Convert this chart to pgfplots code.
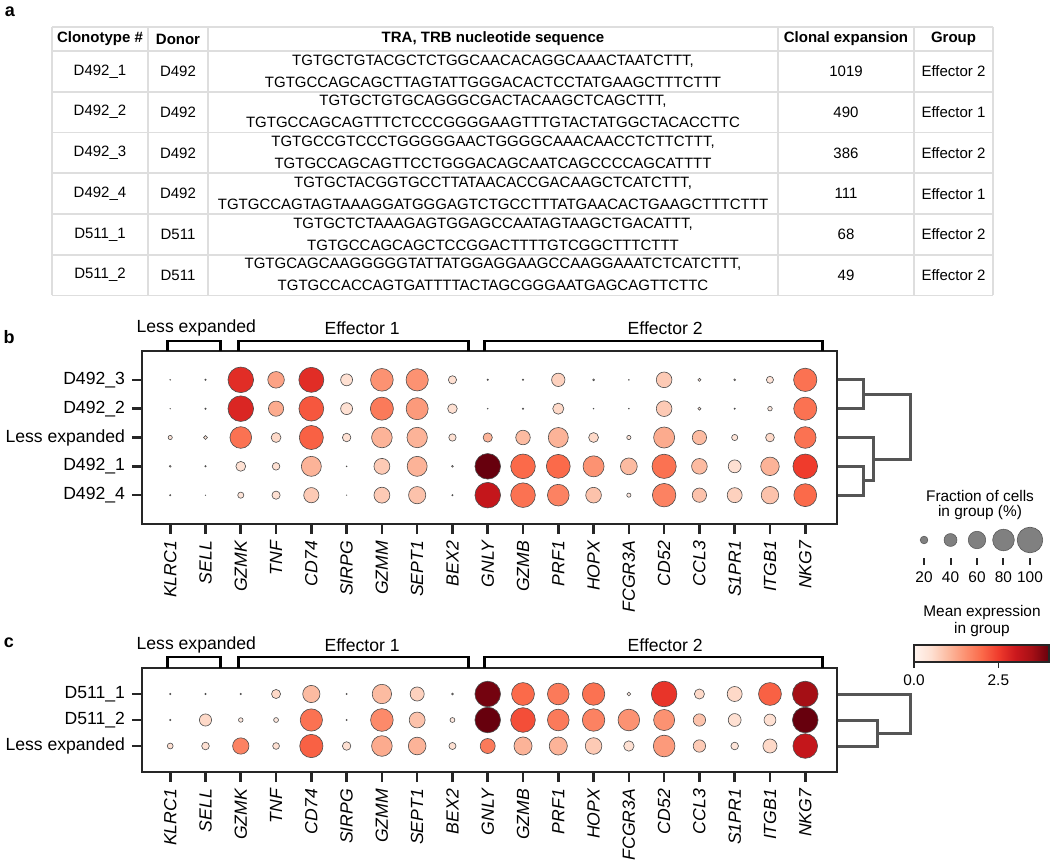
\documentclass[border=0pt]{standalone}
\usepackage{pgfplots}
\pgfplotsset{compat=1.18}
\usepackage{pgfplotstable}
\usepackage{fontspec}
\setmainfont{Liberation Sans}
\definecolor{tgrid}{RGB}{222,222,222}
\definecolor{axc}{RGB}{38,38,38}
\definecolor{dendc}{RGB}{85,85,85}
\newcommand\tf{\fontsize{7.5}{9}\selectfont}
\newcommand\lf{\fontsize{8.8}{10}\selectfont}
\newcommand\smf{\fontsize{7.7}{9}\selectfont}

\pgfplotstableread[row sep=\\]{
x y frac expr\\
0 0 1 0.3\\ 1 0 2 0.3\\ 2 0 100 2.7\\ 3 0 56 1.3\\ 4 0 97 2.7\\ 5 0 36 0.5\\ 6 0 85 1.5\\ 7 0 83 1.5\\ 8 0 22 0.5\\ 9 0 2 0.5\\
10 0 2 0.5\\ 11 0 42 0.7\\ 12 0 3 0.4\\ 13 0 1 0.3\\ 14 0 52 0.8\\ 15 0 6 0.4\\ 16 0 3 0.3\\ 17 0 18 0.4\\ 18 0 88 1.9\\
0 1 0.5 0.2\\ 1 1 2 0.3\\ 2 1 100 2.8\\ 3 1 50 1.2\\ 4 1 96 2.2\\ 5 1 36 0.5\\ 6 1 87 1.8\\ 7 1 82 1.4\\ 8 1 27 0.5\\ 9 1 1 0.3\\
10 1 2 0.4\\ 11 1 33 0.6\\ 12 1 1 0.3\\ 13 1 1 0.3\\ 14 1 52 0.8\\ 15 1 6 0.4\\ 16 1 2 0.3\\ 17 1 10 0.3\\ 18 1 87 1.9\\
0 2 9 0.4\\ 1 2 8 0.4\\ 2 2 80 1.9\\ 3 2 28 0.6\\ 4 2 92 2.1\\ 5 2 23 0.5\\ 6 2 75 1.1\\ 7 2 74 1.1\\ 8 2 19 0.5\\ 9 2 26 1.1\\
10 2 47 1.0\\ 11 2 72 1.1\\ 12 2 28 0.6\\ 13 2 9 0.4\\ 14 2 77 1.2\\ 15 2 46 1.0\\ 16 2 15 0.4\\ 17 2 24 0.6\\ 18 2 80 1.9\\
0 3 3 0.3\\ 1 3 2 0.3\\ 2 3 28 0.5\\ 3 3 20 0.5\\ 4 3 72 1.1\\ 5 3 1 0.3\\ 6 3 53 0.8\\ 7 3 72 1.1\\ 8 3 3 0.3\\ 9 3 100 4.0\\
10 3 95 2.0\\ 11 3 91 2.0\\ 12 3 77 1.5\\ 13 3 57 1.0\\ 14 3 93 1.9\\ 15 3 52 1.0\\ 16 3 40 0.5\\ 17 3 65 1.1\\ 18 3 95 2.5\\
0 4 2 0.3\\ 1 4 0.5 0.2\\ 2 4 15 0.4\\ 3 4 22 0.5\\ 4 4 50 0.8\\ 5 4 0.5 0.2\\ 6 4 53 0.8\\ 7 4 59 0.9\\ 8 4 2 0.3\\ 9 4 100 3.1\\
10 4 95 1.9\\ 11 4 80 1.7\\ 12 4 52 0.9\\ 13 4 9 0.3\\ 14 4 89 1.7\\ 15 4 46 0.9\\ 16 4 49 0.7\\ 17 4 60 0.9\\ 18 4 86 2.0\\
}\tblb

\pgfplotstableread[row sep=\\]{
x y frac expr\\
0 0 2 0.3\\ 1 0 2 0.3\\ 2 0 2 0.3\\ 3 0 25 0.6\\ 4 0 59 1.0\\ 5 0 2 0.3\\ 6 0 69 1.0\\ 7 0 45 0.7\\ 8 0 3 0.3\\ 9 0 100 3.9\\
10 0 86 2.0\\ 11 0 80 1.8\\ 12 0 84 1.9\\ 13 0 8 0.3\\ 14 0 100 2.6\\ 15 0 29 0.6\\ 16 0 49 0.6\\ 17 0 86 2.1\\ 18 0 100 3.5\\
0 1 2 0.3\\ 1 1 37 0.6\\ 2 1 10 0.3\\ 3 1 11 0.3\\ 4 1 83 1.9\\ 5 1 2 0.3\\ 6 1 85 1.6\\ 7 1 53 0.9\\ 8 1 11 0.3\\ 9 1 100 4.0\\
10 1 95 2.3\\ 11 1 80 1.8\\ 12 1 84 1.7\\ 13 1 80 1.5\\ 14 1 77 1.5\\ 15 1 38 0.9\\ 16 1 40 0.5\\ 17 1 36 0.5\\ 18 1 100 4.0\\
0 2 14 0.5\\ 1 2 20 0.5\\ 2 2 55 1.7\\ 3 2 17 0.5\\ 4 2 88 2.1\\ 5 2 23 0.5\\ 6 2 75 1.2\\ 7 2 61 1.1\\ 8 2 18 0.5\\ 9 2 49 1.8\\
10 2 63 1.1\\ 11 2 63 1.1\\ 12 2 56 0.8\\ 13 2 30 0.5\\ 14 2 80 1.4\\ 15 2 38 0.8\\ 16 2 20 0.4\\ 17 2 45 0.6\\ 18 2 95 3.1\\
}\tblc

\pgfplotstableread[row sep=\\]{
x y frac\\
20 0 20\\ 40 0 40\\ 60 0 60\\ 80 0 80\\ 100 0 100\\
}\tblsize

\pgfplotsset{
  colormap={reds}{rgb255=(255,245,240) rgb255=(254,224,210) rgb255=(252,187,161) rgb255=(252,146,114) rgb255=(251,106,74) rgb255=(239,59,44) rgb255=(203,24,29) rgb255=(165,15,21) rgb255=(103,0,13)},
  dotplot/.style={
    scale only axis, width=347.5pt, xmin=-0.8, xmax=18.9,
    y dir=reverse, clip=false, anchor=south west,
    colormap name=reds, point meta min=0, point meta max=4,
    axis line style={line width=1pt, color=axc},
    tick align=outside, major tick length=5pt, tick pos=left,
    tick style={line width=1.3pt, color=axc},
    xtick={0,...,18},
    xticklabels={KLRC1,SELL,GZMK,TNF,CD74,SIRPG,GZMM,SEPT1,BEX2,GNLY,GZMB,PRF1,HOPX,FCGR3A,CD52,CCL3,S1PR1,ITGB1,NKG7},
    xticklabel style={rotate=90, anchor=east, font=\lf\itshape},
    yticklabel style={font=\lf},
  },
  dots/.style={scatter, only marks, mark=*, point meta=\thisrow{expr},
    scatter/use mapped color={draw=black!70, fill=mapped color},
    visualization depends on={6.4*pow(\thisrow{frac}/100,0.75) \as \msz},
    scatter/@pre marker code/.append style={/tikz/mark size=\msz},
    line width=0.3pt},
  dend/.style={dendc, line width=1.5pt, no marks, line join=miter},
}

\begin{document}
\begin{tikzpicture}[x=0.5pt,y=0.5pt]
\useasboundingbox (0,0) rectangle (1050,863);
\coordinate (pb) at (142,339);
\coordinate (pc) at (142,91);
\coordinate (cbpos) at (914,218);
\coordinate (slpos) at (908,305);

% panel labels
\node[font=\fontsize{9}{10}\selectfont\bfseries] at (10,851) {a};
\node[font=\fontsize{9}{10}\selectfont\bfseries] at (9,526) {b};
\node[font=\fontsize{9}{10}\selectfont\bfseries] at (9,220) {c};

% table grid
\begin{scope}[draw=tgrid, line width=0.9pt]
\foreach \yy in {27,51,91.7,132.5,173.3,214,254.8,295.5} \draw (52,863-\yy) -- (993,863-\yy);
\foreach \xx in {52,148,208,778,914,993} \draw (\xx,863-27) -- (\xx,863-295.5);
\end{scope}
% header
\begin{scope}[font=\tf\bfseries]
\node at (100,824) {Clonotype \#};
\node at (178,824) {Donor};
\node at (493,824) {TRA, TRB nucleotide sequence};
\node at (846,824) {Clonal expansion};
\node at (953.5,824) {Group};
\end{scope}
\begin{scope}[font=\tf]
% row 1
\node at (100,863-71.4) {D492\_1};
\node at (178,863-71.4) {D492};
\node at (493,863-60.9) {TGTGCTGTACGCTCTGGCAACACAGGCAAACTAATCTTT,};
\node at (493,863-81.9) {TGTGCCAGCAGCTTAGTATTGGGACACTCCTATGAAGCTTTCTTT};
\node at (846,863-71.4) {1019};
\node at (953.5,863-71.4) {Effector 2};
% row 2
\node at (100,863-112.1) {D492\_2};
\node at (178,863-112.1) {D492};
\node at (493,863-101.6) {TGTGCTGTGCAGGGCGACTACAAGCTCAGCTTT,};
\node at (493,863-122.6) {TGTGCCAGCAGTTTCTCCCGGGGAAGTTTGTACTATGGCTACACCTTC};
\node at (846,863-112.1) {490};
\node at (953.5,863-112.1) {Effector 1};
% row 3
\node at (100,863-152.9) {D492\_3};
\node at (178,863-152.9) {D492};
\node at (493,863-142.4) {TGTGCCGTCCCTGGGGGAACTGGGGCAAACAACCTCTTCTTT,};
\node at (493,863-163.4) {TGTGCCAGCAGTTCCTGGGACAGCAATCAGCCCCAGCATTTT};
\node at (846,863-152.9) {386};
\node at (953.5,863-152.9) {Effector 2};
% row 4
\node at (100,863-193.7) {D492\_4};
\node at (178,863-193.7) {D492};
\node at (493,863-183.2) {TGTGCTACGGTGCCTTATAACACCGACAAGCTCATCTTT,};
\node at (493,863-204.2) {TGTGCCAGTAGTAAAGGATGGGAGTCTGCCTTTATGAACACTGAAGCTTTCTTT};
\node at (846,863-193.7) {111};
\node at (953.5,863-193.7) {Effector 1};
% row 5
\node at (100,863-234.4) {D511\_1};
\node at (178,863-234.4) {D511};
\node at (493,863-223.9) {TGTGCTCTAAAGAGTGGAGCCAATAGTAAGCTGACATTT,};
\node at (493,863-244.9) {TGTGCCAGCAGCTCCGGACTTTTGTCGGCTTTCTTT};
\node at (846,863-234.4) {68};
\node at (953.5,863-234.4) {Effector 2};
% row 6
\node at (100,863-275.2) {D511\_2};
\node at (178,863-275.2) {D511};
\node at (493,863-264.7) {TGTGCAGCAAGGGGGTATTATGGAGGAAGCCAAGGAAATCTCATCTTT,};
\node at (493,863-285.7) {TGTGCCACCAGTGATTTTACTAGCGGGAATGAGCAGTTCTTC};
\node at (846,863-275.2) {49};
\node at (953.5,863-275.2) {Effector 2};
\end{scope}

% panel b
\begin{axis}[dotplot, at={(pb)}, height=86.5pt, ymin=-1, ymax=5,
  ytick={0,...,4}, yticklabels={D492\_3,D492\_2,Less expanded,D492\_1,D492\_4}]
\addplot[dots] table[x=x,y=y] {\tblb};
\draw[line width=1.4pt] (axis cs:-0.085,-1) -- (axis cs:-0.085,-1.35) -- (axis cs:1.42,-1.35) -- (axis cs:1.42,-1);
\draw[line width=1.4pt] (axis cs:1.93,-1) -- (axis cs:1.93,-1.35) -- (axis cs:8.45,-1.35) -- (axis cs:8.45,-1);
\draw[line width=1.4pt] (axis cs:8.9,-1) -- (axis cs:8.9,-1.35) -- (axis cs:18.5,-1.35) -- (axis cs:18.5,-1);
\node[font=\lf] at (axis cs:0.74,-1.8) {Less expanded};
\node[font=\lf] at (axis cs:5.44,-1.8) {Effector 1};
\node[font=\lf] at (axis cs:14.03,-1.8) {Effector 2};
\addplot[dend] coordinates {(18.93,0) (19.64,0) (19.64,1) (18.93,1)};
\addplot[dend] coordinates {(18.93,3) (19.64,3) (19.64,4) (18.93,4)};
\addplot[dend] coordinates {(18.93,2) (19.94,2) (19.94,3.5) (19.64,3.5)};
\addplot[dend] coordinates {(19.64,0.5) (20.98,0.5) (20.98,2.75) (19.94,2.75)};
\end{axis}

% panel c
\begin{axis}[dotplot, at={(pc)}, height=52pt, ymin=-1, ymax=3,
  ytick={0,...,2}, yticklabels={D511\_1,D511\_2,Less expanded},
  colorbar horizontal,
  colorbar style={at={(cbpos)}, anchor=south west, scale only axis,
    width=67.5pt, height=8.5pt, xmin=0, xmax=4, y dir=normal,
    xtick={0,2.5}, xticklabels={0.0,2.5}, ytick=\empty,
    xtick pos=lower, xticklabel pos=lower, tick align=outside,
    major tick length=3pt, tick style={line width=0.8pt, color=axc},
    axis line style={line width=0.6pt, color=axc},
    xticklabel style={rotate=0, anchor=north, font=\smf}}]
\addplot[dots] table[x=x,y=y] {\tblc};
\draw[line width=1.4pt] (axis cs:-0.085,-1) -- (axis cs:-0.085,-1.42) -- (axis cs:1.42,-1.42) -- (axis cs:1.42,-1);
\draw[line width=1.4pt] (axis cs:1.93,-1) -- (axis cs:1.93,-1.42) -- (axis cs:8.45,-1.42) -- (axis cs:8.45,-1);
\draw[line width=1.4pt] (axis cs:8.9,-1) -- (axis cs:8.9,-1.42) -- (axis cs:18.5,-1.42) -- (axis cs:18.5,-1);
\node[font=\lf] at (axis cs:0.74,-1.88) {Less expanded};
\node[font=\lf] at (axis cs:5.44,-1.88) {Effector 1};
\node[font=\lf] at (axis cs:14.03,-1.88) {Effector 2};
\addplot[dend] coordinates {(18.93,1) (20.06,1) (20.06,2) (18.93,2)};
\addplot[dend] coordinates {(18.93,0) (20.98,0) (20.98,1.5) (20.06,1.5)};
\end{axis}

% size legend
\begin{axis}[at={(slpos)}, anchor=south west, scale only axis, width=69pt, height=18pt,
  xmin=7.9, xmax=112.1, ymin=-1, ymax=1, clip=false,
  axis line style={draw=none}, ytick=\empty, xtick={20,40,60,80,100},
  tick pos=left, tick align=outside, major tick length=3.5pt,
  tick style={line width=1pt, color=axc},
  xticklabel style={font=\smf, /pgf/number format/assume math mode=true}]
\addplot[scatter, only marks, mark=*, point meta=\thisrow{frac},
  scatter/use mapped color={draw=black!65, fill=black!50},
  visualization depends on={6.4*pow(\thisrow{frac}/100,0.75) \as \msz},
  scatter/@pre marker code/.append style={/tikz/mark size=\msz},
  line width=0.3pt]
  table[x=x,y=y] {\tblsize};
\end{axis}
\node[font=\smf] at (980,863-496) {Fraction of cells};
\node[font=\smf] at (980,863-513) {in group (\%)};
\node[font=\smf] at (982,863-613) {Mean expression};
\node[font=\smf] at (982,863-630) {in group};
\end{tikzpicture}
\end{document}
